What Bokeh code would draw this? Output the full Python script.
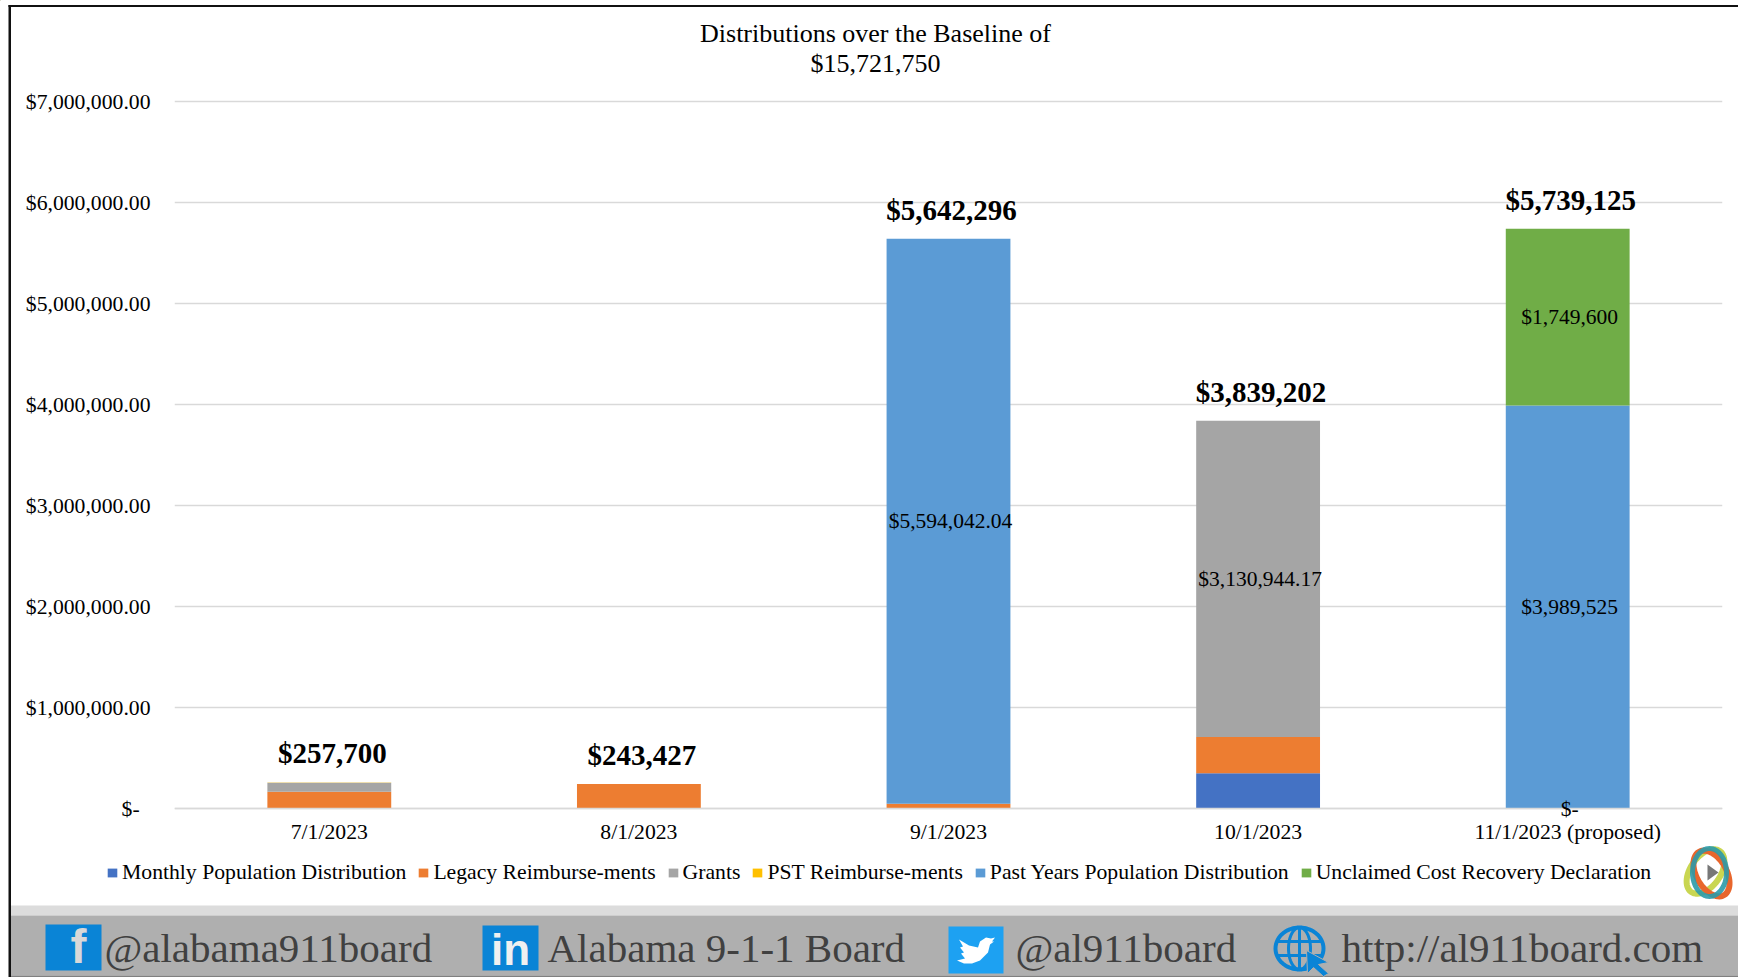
import numpy as np
from bokeh.plotting import figure
from bokeh.embed import file_html
from bokeh.resources import INLINE
from bokeh.core.properties import value
from bokeh.models import (ColumnDataSource, FactorRange, Range1d, FixedTicker, Legend, LegendItem, LabelSet)

categories = ["7/1/2023", "8/1/2023", "9/1/2023", "10/1/2023", "11/1/2023 (proposed)"]
series_names = ["Monthly Population Distribution", "Legacy Reimburse-ments", "Grants", "PST Reimburse-ments",
                "Past Years Population Distribution", "Unclaimed Cost Recovery Declaration"]
monthly = [0, 0, 0, 350000, 0]
legacy = [165000, 243427, 48254, 358258, 0]
grants = [90700, 0, 0, 3130944.17, 0]
pst = [2000, 0, 0, 0, 0]
past_years = [0, 0, 5594042.04, 0, 3989525]
unclaimed = [0, 0, 0, 0, 1749600]
totals = [257700, 243427, 5642296, 3839202, 5739125]
total_labels = ["$257,700", "$243,427", "$5,642,296", "$3,839,202", "$5,739,125"]
colors = ["#4472c4", "#ed7d31", "#a5a5a5", "#ffc000", "#5b9bd5", "#70ad47"]
y_ticks = [0, 1000000, 2000000, 3000000, 4000000, 5000000, 6000000, 7000000]
y_tick_labels = ["$-\u00a0\u00a0", "$1,000,000.00", "$2,000,000.00", "$3,000,000.00", "$4,000,000.00",
                 "$5,000,000.00", "$6,000,000.00", "$7,000,000.00"]
title_lines = ["Distributions over the Baseline of", "$15,721,750"]
seg_cats = ["9/1/2023", "10/1/2023", "11/1/2023 (proposed)", "11/1/2023 (proposed)", "11/1/2023 (proposed)"]
seg_y = [48254 + 5594042.04 / 2, 708258 + 3130944.17 / 2, 3989525 / 2, 3989525 + 1749600 / 2, 0]
seg_labels = ["$5,594,042.04", "$3,130,944.17", "$3,989,525", "$1,749,600", "$-"]

FONT = "Liberation Serif"
W, H = 1738, 977
ABS = {"position": "absolute", "left": "0px", "top": "0px"}

# ---------- backdrop: title, frame, footer, logo, legend ----------
bg = figure(width=W, height=H, x_range=Range1d(0, W), y_range=Range1d(H, 0), output_backend="svg",
            toolbar_location=None, x_axis_location=None, y_axis_location=None, min_border=0,
            outline_line_color=None, styles=ABS)
bg.xgrid.visible = False
bg.ygrid.visible = False


def box(l, r, t, b, c):
    bg.quad(left=[l], right=[r], top=[t], bottom=[b], fill_color=c, line_color=None)


def text(x, y, t, size, color="#404040", style="normal", font=FONT, align="left"):
    bg.text(x=[x], y=[y], text=[t], text_font=value(font), text_font_size=value(size), text_color=color,
            text_font_style=style, text_align=align, text_baseline="middle")


def poly(xs, ys, fill=None, line=None, lw=1, alpha=1):
    bg.patch(x=list(xs), y=list(ys), fill_color=fill, fill_alpha=alpha if fill else 0,
             line_color=line, line_width=lw, line_alpha=alpha if line else 0)


def ell(cx, cy, a, b, rot=0, n=60):
    th = np.linspace(0, 2 * np.pi, n + 1)
    x, y = a * np.cos(th), b * np.sin(th)
    c, s = np.cos(rot), np.sin(rot)
    return cx + x * c - y * s, cy + x * s + y * c


text(875, 33, title_lines[0], "26px", "#000000", align="center")
text(875, 63, title_lines[1], "26px", "#000000", align="center")

box(8, 10.5, 4.5, H, "#111111")
box(8, W, 4.5, 6.5, "#111111")

box(10.5, W, 905, 915, "#dcdcdc")
box(10.5, W, 915, 975, "#afafaf")
box(10.5, W, 975, H, "#808080")

box(45, 101, 924, 970, "#0a84d6")
text(78, 946, "f", "48px", "#d8d8d8", "bold", "Liberation Sans", "center")
text(104, 947, "@alabama911board", "41px")
box(482, 538, 925, 970, "#0a84d6")
text(510, 949, "in", "44px", "#f0f0f0", "bold", "Liberation Sans", "center")
text(547, 947, "Alabama 9-1-1 Board", "41px")
box(948, 1003, 926, 973, "#1da1f2")
bx = np.array([-17, -7, 2, 4, 10, 15, 19, 16, 18, 14, 12, 4, -4, -12, -19, -11, -15, -12, -16, -13, -17])
by = np.array([-11, -5, -3, -9, -13, -12, -13, -9, -9, -6, 2, 10, 13, 13, 10, 8, 3, 2, -3, -4, -11])
poly(975.5 + bx, 950 + by, "#ffffff")
text(1015, 947, "@al911board", "41px")
gx, gy = ell(1299, 948, 24, 21)
poly(gx, gy, None, "#0a84d6", 4)
gx, gy = ell(1299, 948, 11, 21)
poly(gx, gy, None, "#0a84d6", 3)
bg.line([1299, 1299], [927, 969], line_color="#0a84d6", line_width=3)
bg.line([1276, 1322], [941, 941], line_color="#0a84d6", line_width=3)
bg.line([1276, 1322], [955, 955], line_color="#0a84d6", line_width=3)
poly([1306, 1328, 1318, 1328, 1323, 1313, 1307], [950, 962, 964, 973, 976, 967, 973], "#0a84d6", "#afafaf", 1)
text(1341, 947, "http://al911board.com", "41px")

lx, ly = ell(1705, 871, 25, 15, np.radians(-55))
poly(lx, ly, None, "#c9d651", 6)
lx, ly = ell(1711, 873, 25, 15, np.radians(60))
poly(lx, ly, None, "#e8662c", 6)
lx, ly = ell(1709, 872, 17, 24, 0)
poly(lx, ly, None, "#2b9aa8", 5, 0.9)
poly([1707, 1707, 1718], [864, 880, 872], "#777777")

keys_r = [bg.vbar(x=[-50], top=[-50], bottom=[-60], width=1, fill_color=c, line_color=None) for c in colors]
legend = Legend(items=[LegendItem(label=n, renderers=[r]) for n, r in zip(series_names, keys_r)],
                orientation="horizontal", location=(106, H - 885), background_fill_alpha=0, border_line_color=None,
                label_text_font=FONT, label_text_font_size="21.7px", label_text_color="#000000",
                glyph_width=12, glyph_height=11, label_standoff=4, spacing=11, padding=0, margin=0)
bg.add_layout(legend, "center")

# ---------- chart ----------
L, R, BASE, TOP7 = 174, 1722, 808, 101
F_T, F_B = 91, 862
per_px = 7000000 / (BASE - TOP7)
y_range = Range1d(-(F_B - BASE) * per_px, (BASE - F_T) * per_px)

src = ColumnDataSource(dict(cat=categories, monthly=monthly, legacy=legacy, grants=grants, pst=pst,
                            past=past_years, unclaimed=unclaimed, total=totals, tl=total_labels))
p = figure(width=W, height=H, x_range=FactorRange(*categories, range_padding=0), y_range=y_range,
           output_backend="svg", toolbar_location=None, min_border_left=L, min_border_right=W - R,
           min_border_top=F_T, min_border_bottom=H - F_B, outline_line_color=None,
           background_fill_alpha=0, border_fill_alpha=0, styles=ABS)

keys = ["monthly", "legacy", "grants", "pst", "past", "unclaimed"]
rs = p.vbar_stack(keys, x="cat", width=0.4, color=colors, source=src, line_color=None)

p.xgrid.visible = False
p.ygrid.grid_line_color = "#d9d9d9"
p.ygrid.grid_line_width = 1.5
p.ygrid.ticker = FixedTicker(ticks=y_ticks)
ya = p.yaxis[0]
ya.ticker = FixedTicker(ticks=y_ticks)
ya.major_label_overrides = dict(zip(y_ticks, y_tick_labels))
ya.axis_line_color = None
ya.major_tick_line_color = None
ya.minor_tick_line_color = None
ya.major_label_standoff = 18
ya.major_label_text_font = FONT
ya.major_label_text_font_size = "21.7px"
ya.major_label_text_color = "#000000"
xa = p.xaxis[0]
xa.fixed_location = 0
xa.axis_line_color = "#d9d9d9"
xa.axis_line_width = 1.5
xa.major_tick_line_color = None
xa.minor_tick_line_color = None
xa.major_label_orientation = "horizontal"
xa.major_label_standoff = 5
xa.major_label_text_font = FONT
xa.major_label_text_font_size = "21.7px"
xa.major_label_text_color = "#000000"

p.add_layout(LabelSet(x="cat", y="total", text="tl", source=src, x_offset=3, y_offset=29,
                      text_font=FONT, text_font_size="29px", text_font_style="bold",
                      text_align="center", text_baseline="middle", text_color="#000000"))
seg = ColumnDataSource(dict(cat=seg_cats, y=seg_y, t=seg_labels))
p.add_layout(LabelSet(x="cat", y="y", text="t", source=seg, x_offset=2, y_offset=0,
                      text_font=FONT, text_font_size="21.5px", text_align="center",
                      text_baseline="middle", text_color="#000000"))

open("out.html", "w").write(file_html([bg, p], INLINE))
